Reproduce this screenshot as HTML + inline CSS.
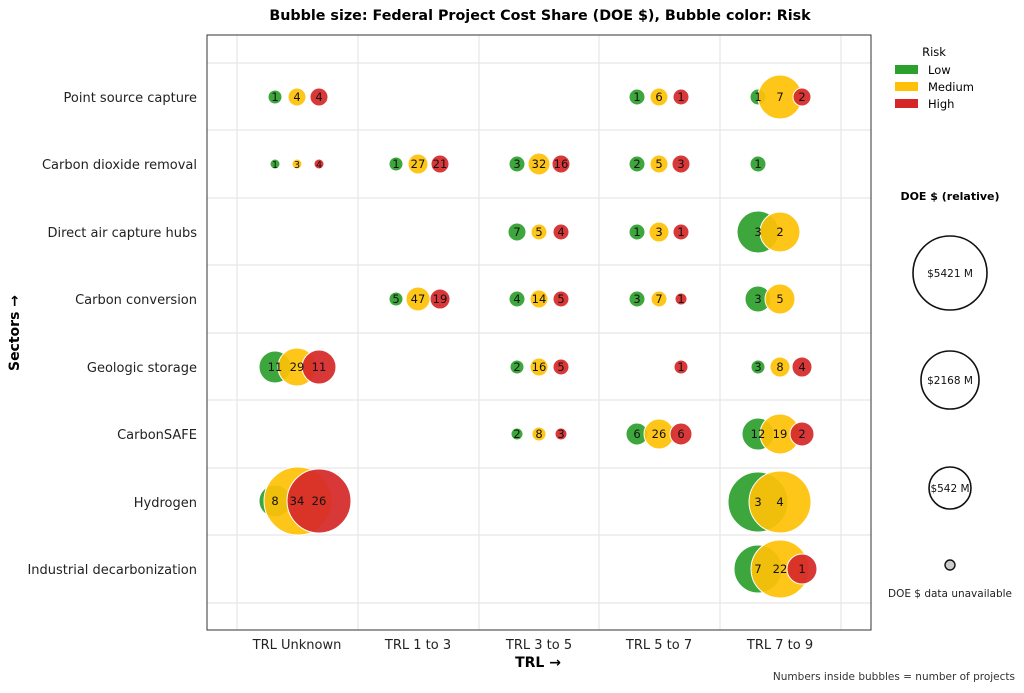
<!DOCTYPE html>
<html><head><meta charset="utf-8"><style>body{margin:0;background:#fff}svg{display:block}text{font-family:"DejaVu Sans","Liberation Sans",sans-serif}</style></head><body>
<svg width="1024" height="693" viewBox="0 0 1024 693" xmlns="http://www.w3.org/2000/svg">
<rect width="1024" height="693" fill="#fff"/>
<text x="540" y="20" text-anchor="middle" font-size="14.3" font-weight="bold">Bubble size: Federal Project Cost Share (DOE $), Bubble color: Risk</text>
<g stroke="#e6e6e6" stroke-width="1.2">
<line x1="237" y1="35" x2="237" y2="630"/><line x1="358" y1="35" x2="358" y2="630"/><line x1="479" y1="35" x2="479" y2="630"/><line x1="599" y1="35" x2="599" y2="630"/><line x1="720" y1="35" x2="720" y2="630"/><line x1="841" y1="35" x2="841" y2="630"/>
<line x1="207" y1="63" x2="871" y2="63"/><line x1="207" y1="130" x2="871" y2="130"/><line x1="207" y1="198" x2="871" y2="198"/><line x1="207" y1="265" x2="871" y2="265"/><line x1="207" y1="333" x2="871" y2="333"/><line x1="207" y1="400" x2="871" y2="400"/><line x1="207" y1="468" x2="871" y2="468"/><line x1="207" y1="535" x2="871" y2="535"/><line x1="207" y1="603" x2="871" y2="603"/>
</g>
<g font-size="13" text-anchor="end" fill="#222">
<text x="197" y="102">Point source capture</text><text x="197" y="169">Carbon dioxide removal</text><text x="197" y="237">Direct air capture hubs</text><text x="197" y="304">Carbon conversion</text><text x="197" y="372">Geologic storage</text><text x="197" y="439">CarbonSAFE</text><text x="197" y="507">Hydrogen</text><text x="197" y="574">Industrial decarbonization</text>
</g>
<g font-size="13" text-anchor="middle" fill="#222">
<text x="297" y="649">TRL Unknown</text><text x="418" y="649">TRL 1 to 3</text><text x="539" y="649">TRL 3 to 5</text><text x="659" y="649">TRL 5 to 7</text><text x="780" y="649">TRL 7 to 9</text>
</g>
<text x="538" y="667" text-anchor="middle" font-size="14" font-weight="bold">TRL →</text>
<text transform="translate(19,333) rotate(-90)" text-anchor="middle" font-size="14" font-weight="bold">Sectors →</text>
<g stroke="#fff" stroke-width="1" fill-opacity="0.92">
<circle cx="275" cy="97" r="7" fill="#2ca02c"/><circle cx="297" cy="97" r="9" fill="#ffc107"/><circle cx="319" cy="97" r="9" fill="#d62728"/>
<circle cx="637" cy="97" r="8" fill="#2ca02c"/><circle cx="659" cy="97" r="9" fill="#ffc107"/><circle cx="681" cy="97" r="8" fill="#d62728"/>
<circle cx="758" cy="97" r="8" fill="#2ca02c"/><circle cx="780" cy="97" r="22" fill="#ffc107"/><circle cx="802" cy="97" r="9" fill="#d62728"/>
<circle cx="275" cy="164" r="5" fill="#2ca02c"/><circle cx="297" cy="164" r="5" fill="#ffc107"/><circle cx="319" cy="164" r="5" fill="#d62728"/>
<circle cx="396" cy="164" r="7" fill="#2ca02c"/><circle cx="418" cy="164" r="10" fill="#ffc107"/><circle cx="440" cy="164" r="9" fill="#d62728"/>
<circle cx="517" cy="164" r="8" fill="#2ca02c"/><circle cx="539" cy="164" r="11" fill="#ffc107"/><circle cx="561" cy="164" r="9" fill="#d62728"/>
<circle cx="637" cy="164" r="8" fill="#2ca02c"/><circle cx="659" cy="164" r="9" fill="#ffc107"/><circle cx="681" cy="164" r="9" fill="#d62728"/>
<circle cx="758" cy="164" r="8" fill="#2ca02c"/>
<circle cx="517" cy="232" r="9" fill="#2ca02c"/><circle cx="539" cy="232" r="8" fill="#ffc107"/><circle cx="561" cy="232" r="8" fill="#d62728"/>
<circle cx="637" cy="232" r="8" fill="#2ca02c"/><circle cx="659" cy="232" r="10" fill="#ffc107"/><circle cx="681" cy="232" r="8" fill="#d62728"/>
<circle cx="758" cy="232" r="21" fill="#2ca02c"/><circle cx="780" cy="232" r="20" fill="#ffc107"/>
<circle cx="396" cy="299" r="7" fill="#2ca02c"/><circle cx="418" cy="299" r="12" fill="#ffc107"/><circle cx="440" cy="299" r="10" fill="#d62728"/>
<circle cx="517" cy="299" r="8" fill="#2ca02c"/><circle cx="539" cy="299" r="9" fill="#ffc107"/><circle cx="561" cy="299" r="8" fill="#d62728"/>
<circle cx="637" cy="299" r="8" fill="#2ca02c"/><circle cx="659" cy="299" r="8" fill="#ffc107"/><circle cx="681" cy="299" r="6" fill="#d62728"/>
<circle cx="758" cy="299" r="13" fill="#2ca02c"/><circle cx="780" cy="299" r="15" fill="#ffc107"/>
<circle cx="275" cy="367" r="16" fill="#2ca02c"/><circle cx="297" cy="367" r="19" fill="#ffc107"/><circle cx="319" cy="367" r="17" fill="#d62728"/>
<circle cx="517" cy="367" r="7" fill="#2ca02c"/><circle cx="539" cy="367" r="9" fill="#ffc107"/><circle cx="561" cy="367" r="8" fill="#d62728"/>
<circle cx="681" cy="367" r="7" fill="#d62728"/>
<circle cx="758" cy="367" r="7" fill="#2ca02c"/><circle cx="780" cy="367" r="10" fill="#ffc107"/><circle cx="802" cy="367" r="10" fill="#d62728"/>
<circle cx="517" cy="434" r="6" fill="#2ca02c"/><circle cx="539" cy="434" r="7" fill="#ffc107"/><circle cx="561" cy="434" r="6" fill="#d62728"/>
<circle cx="637" cy="434" r="11" fill="#2ca02c"/><circle cx="659" cy="434" r="15" fill="#ffc107"/><circle cx="681" cy="434" r="11" fill="#d62728"/>
<circle cx="758" cy="434" r="16" fill="#2ca02c"/><circle cx="780" cy="434" r="20" fill="#ffc107"/><circle cx="802" cy="434" r="12" fill="#d62728"/>
<circle cx="275" cy="501" r="16" fill="#2ca02c"/><circle cx="298" cy="501" r="34" fill="#ffc107"/><circle cx="319" cy="501" r="32" fill="#d62728"/>
<circle cx="758" cy="502" r="30" fill="#2ca02c"/><circle cx="780" cy="502" r="31" fill="#ffc107"/>
<circle cx="758" cy="569" r="24" fill="#2ca02c"/><circle cx="780" cy="569" r="29" fill="#ffc107"/><circle cx="802" cy="569" r="15" fill="#d62728"/>
</g>
<g font-size="11.5" text-anchor="middle" fill="#111">
<text x="275" y="101">1</text><text x="297" y="101">4</text><text x="319" y="101">4</text>
<text x="637" y="101">1</text><text x="659" y="101">6</text><text x="681" y="101">1</text>
<text x="758" y="101">1</text><text x="780" y="101">7</text><text x="802" y="101">2</text>
<text x="275" y="168" font-size="9.5">1</text><text x="297" y="168" font-size="9.5">3</text><text x="319" y="168" font-size="9.5">4</text>
<text x="396" y="168">1</text><text x="418" y="168">27</text><text x="440" y="168">21</text>
<text x="517" y="168">3</text><text x="539" y="168">32</text><text x="561" y="168">16</text>
<text x="637" y="168">2</text><text x="659" y="168">5</text><text x="681" y="168">3</text>
<text x="758" y="168">1</text>
<text x="517" y="236">7</text><text x="539" y="236">5</text><text x="561" y="236">4</text>
<text x="637" y="236">1</text><text x="659" y="236">3</text><text x="681" y="236">1</text>
<text x="758" y="236">3</text><text x="780" y="236">2</text>
<text x="396" y="303">5</text><text x="418" y="303">47</text><text x="440" y="303">19</text>
<text x="517" y="303">4</text><text x="539" y="303">14</text><text x="561" y="303">5</text>
<text x="637" y="303">3</text><text x="659" y="303">7</text><text x="681" y="303">1</text>
<text x="758" y="303">3</text><text x="780" y="303">5</text>
<text x="275" y="371">11</text><text x="297" y="371">29</text><text x="319" y="371">11</text>
<text x="517" y="371">2</text><text x="539" y="371">16</text><text x="561" y="371">5</text>
<text x="681" y="371">1</text>
<text x="758" y="371">3</text><text x="780" y="371">8</text><text x="802" y="371">4</text>
<text x="517" y="438">2</text><text x="539" y="438">8</text><text x="561" y="438">3</text>
<text x="637" y="438">6</text><text x="659" y="438">26</text><text x="681" y="438">6</text>
<text x="758" y="438">12</text><text x="780" y="438">19</text><text x="802" y="438">2</text>
<text x="275" y="505">8</text><text x="297" y="505">34</text><text x="319" y="505">26</text>
<text x="758" y="506">3</text><text x="780" y="506">4</text>
<text x="758" y="573">7</text><text x="780" y="573">22</text><text x="802" y="573">1</text>
</g>
<rect x="207" y="35" width="664" height="595" fill="none" stroke="#333" stroke-width="1"/>
<text x="934" y="56" text-anchor="middle" font-size="11.5">Risk</text>
<rect x="895" y="65" width="23" height="9" fill="#2ca02c"/><text x="928" y="74" font-size="11.5">Low</text>
<rect x="895" y="82" width="23" height="9" fill="#ffc107"/><text x="928" y="91" font-size="11.5">Medium</text>
<rect x="895" y="99" width="23" height="9" fill="#d62728"/><text x="928" y="108" font-size="11.5">High</text>
<text x="950" y="200" text-anchor="middle" font-size="11" font-weight="bold">DOE $ (relative)</text>
<g fill="none" stroke="#111" stroke-width="1.6">
<circle cx="950" cy="273" r="37"/><circle cx="950" cy="380" r="29"/><circle cx="950" cy="488" r="21"/>
</g>
<circle cx="950" cy="565" r="5" fill="#ccc" stroke="#111" stroke-width="1.4"/>
<g font-size="10.5" text-anchor="middle" fill="#111">
<text x="950" y="277">$5421 M</text><text x="950" y="384">$2168 M</text><text x="950" y="492">$542 M</text>
</g>
<text x="950" y="597" text-anchor="middle" font-size="10.5" fill="#222">DOE $ data unavailable</text>
<text x="1015" y="680" text-anchor="end" font-size="10.5" fill="#333">Numbers inside bubbles = number of projects</text>
</svg>
</body></html>
